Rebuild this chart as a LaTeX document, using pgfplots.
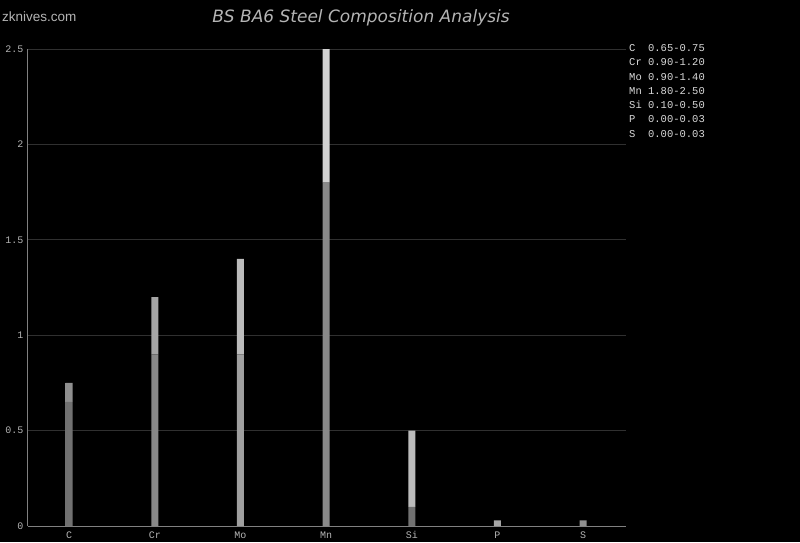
\documentclass[border=0pt]{standalone}
\usepackage{pgfplots}
\pgfplotsset{compat=1.18}
\usepackage{fontspec}
\setmainfont{Liberation Sans}
\newfontfamily\monof{Liberation Mono}
\newfontfamily\titlef{DejaVu Sans}
\definecolor{bglow}{HTML}{707070}
\definecolor{bgmid}{HTML}{A0A0A0}
\definecolor{bhlow}{HTML}{8E8E8E}
\definecolor{bhmid}{HTML}{D2D2D2}
\definecolor{gridc}{HTML}{303030}
\definecolor{axc}{HTML}{808080}
\definecolor{txtc}{HTML}{B4B4B4}
\begin{document}
\begin{tikzpicture}[x=1pt,y=1pt]
\fill[black] (0,0) rectangle (800,542);
\useasboundingbox (0,0) rectangle (800,542);
\begin{axis}[
  at={(28pt,16pt)}, anchor=south west,
  scale only axis, width=598pt, height=477pt,
  xmin=-0.48, xmax=6.5, ymin=0, ymax=2.5,
  ybar stacked, bar width=7pt,
  axis x line*=bottom, axis y line*=left,
  axis line style={axc, line width=1pt, -},
  ymajorgrids, grid style={gridc, line width=0.8pt},
  major tick length=0pt,
  xtick={0,1,2,3,4,5,6},
  xticklabels={C,Cr,Mo,Mn,Si,P,S},
  ytick={0,0.5,1,1.5,2,2.5},
  yticklabels={0,0.5,1,1.5,2,2.5},
  ticklabel style={font=\fontsize{10}{12}\monof, text=txtc},
  xticklabel style={yshift=-1.5pt, text height=7pt, text depth=1pt},
  yticklabel style={xshift=-1pt},
  clip=false,
]
\addplot[draw=none, shading=axis, shading angle=90, left color=bglow, right color=bglow, middle color=bgmid] coordinates {
(0,0.65) (1,0.90) (2,0.90) (3,1.80) (4,0.10) (5,0.00) (6,0.00)};
\addplot[draw=none, shading=axis, shading angle=90, left color=bhlow, right color=bhlow, middle color=bhmid] coordinates {
(0,0.10) (1,0.30) (2,0.50) (3,0.70) (4,0.40) (5,0.03) (6,0.03)};
\end{axis}
\node[text=txtc, font=\fontsize{17}{20}\titlef\itshape] at (361,524) {BS BA6 Steel Composition Analysis};
\node[text=txtc, font=\fontsize{13.5}{15}\selectfont, anchor=west, inner sep=0pt] at (2,525) {zknives.com};
\foreach \t [count=\i from 0] in {C\ \ 0.65-0.75, Cr 0.90-1.20, Mo 0.90-1.40, Mn 1.80-2.50, Si 0.10-0.50, P\ \ 0.00-0.03, S\ \ 0.00-0.03}
  \node[text=white!85!black, font=\fontsize{10.5}{12}\monof, anchor=west, inner sep=0pt] at (629,{494-14.3*\i}) {\t};
\end{tikzpicture}
\end{document}
